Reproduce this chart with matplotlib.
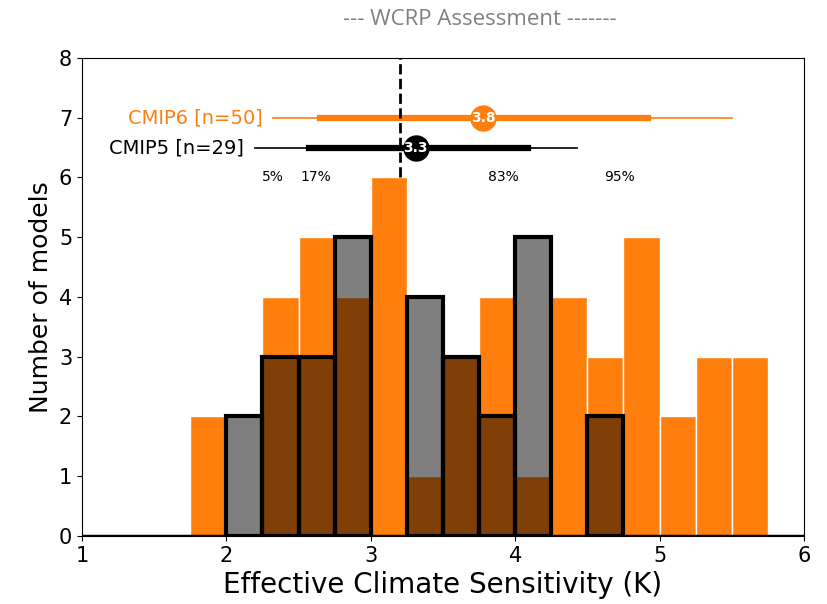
#histogram of effective climate sensitivity, CMIP5 vs CMIP6
import numpy as np
from matplotlib import pyplot as plt

#bin edges (left side), width 0.25 K
bin_left = [1.75, 2.0, 2.25, 2.5, 2.75, 3.0, 3.25, 3.5, 3.75, 4.0, 4.25, 4.5, 4.75, 5.0, 5.25, 5.5]
cmip6_counts = [2, 0, 4, 5, 4, 6, 1, 3, 4, 1, 4, 3, 5, 2, 3, 3]
cmip5_counts = [0, 2, 3, 3, 5, 0, 4, 3, 2, 5, 0, 2, 0, 0, 0, 0]

#5, 17, 50, 83, 95 percentiles
cmip6_pct = [2.32, 2.65, 3.78, 4.92, 5.50]
cmip5_pct = [2.20, 2.57, 3.31, 4.09, 4.43]
wcrp_value = 3.2
pct_labels = ['5%', '17%', '83%', '95%']
pct_pos = [2.32, 2.62, 3.92, 4.72]

orange = '#ff7f0e'
width = 0.25

fig = plt.figure(figsize=(8.28, 6.04), dpi=100)
ax = fig.add_axes([0.099, 0.1126, 0.872, 0.7914])

#cmip6 bars first, white edges
ax.bar(bin_left, cmip6_counts, width=width, align='edge', color=orange, edgecolor='white', linewidth=1)

#cmip5 on top, half transparent black with solid black outlines
c5_left = [b for b, c in zip(bin_left, cmip5_counts) if c > 0]
c5_vals = [c for c in cmip5_counts if c > 0]
ax.bar(c5_left, c5_vals, width=width, align='edge', color=(0, 0, 0, 0.5), edgecolor='black', linewidth=3)

#whiskers
ax.plot([cmip6_pct[0], cmip6_pct[4]], [7, 7], color=orange, lw=1.2)
ax.plot([cmip6_pct[1], cmip6_pct[3]], [7, 7], color=orange, lw=4.5)
ax.plot(cmip6_pct[2], 7, 'o', color=orange, markersize=18)
ax.text(cmip6_pct[2], 7, '3.8', color='white', fontsize=10, fontweight='bold', ha='center', va='center')

ax.plot([cmip5_pct[0], cmip5_pct[4]], [6.5, 6.5], color='black', lw=1.2)
ax.plot([cmip5_pct[1], cmip5_pct[3]], [6.5, 6.5], color='black', lw=4.5)
ax.plot(cmip5_pct[2], 6.5, 'o', color='black', markersize=18)
ax.text(cmip5_pct[2], 6.5, '3.3', color='white', fontsize=10, fontweight='bold', ha='center', va='center')

ax.text(2.25, 7, 'CMIP6 [n=50]', color=orange, fontsize=14, ha='right', va='center')
ax.text(2.12, 6.5, 'CMIP5 [n=29]', color='black', fontsize=14, ha='right', va='center')

for lab, xp in zip(pct_labels, pct_pos):
    ax.text(xp, 6.0, lab, fontsize=10, ha='center', va='center')

#wcrp line
ax.plot([wcrp_value, wcrp_value], [6.0, 8], color='black', ls='--', lw=2)

ax.axhline(0, color='black', lw=2.5)
ax.set_xlim(1, 6)
ax.set_ylim(0, 8)
ax.set_xticks([1, 2, 3, 4, 5, 6])
ax.set_yticks(range(0, 9))
ax.tick_params(labelsize=15)
ax.set_xlabel('Effective Climate Sensitivity (K)', fontsize=20)
ax.set_ylabel('Number of models', fontsize=18)
ax.set_title('--- WCRP Assessment -------', fontsize=16, color='gray', family='Open Sans', pad=24, x=0.551)

plt.savefig('out.png')
